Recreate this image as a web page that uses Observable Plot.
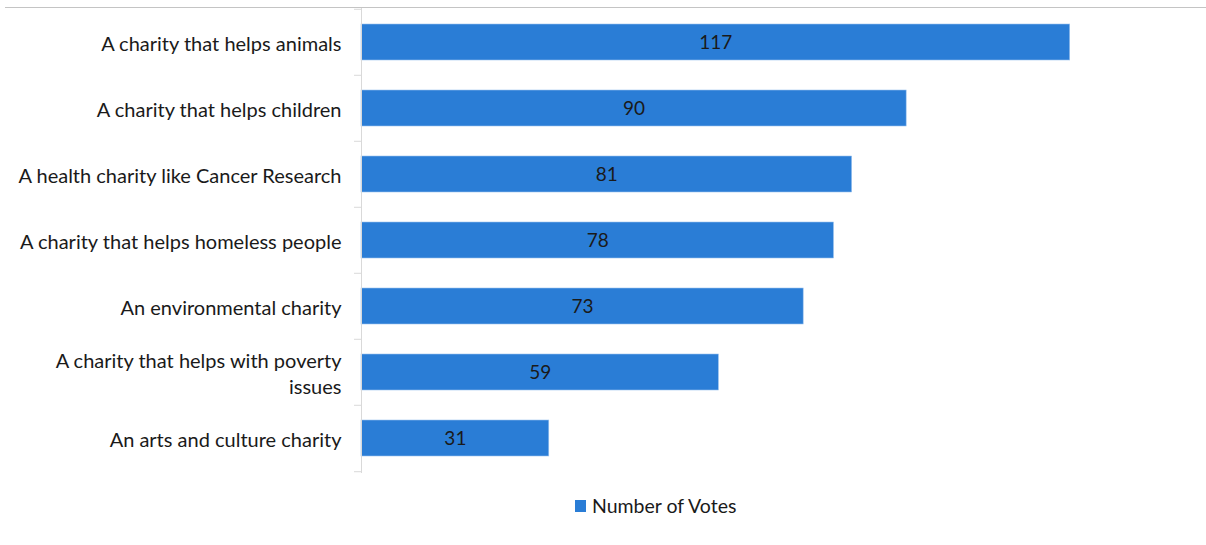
<!DOCTYPE html>
<html>
<head>
<meta charset="utf-8">
<script src="https://cdn.jsdelivr.net/npm/d3@7"></script>
<script src="https://cdn.jsdelivr.net/npm/@observablehq/plot@0.6"></script>
<style>
  html, body { margin: 0; padding: 0; background: #fff; }
  #wrap { position: relative; width: 1206px; height: 545px; font-family: Lato, "Open Sans", sans-serif; }
  #topline { position: absolute; top: 7px; left: 5px; right: 0; height: 1px; background: #c4c4c4; }
  #chart { position: absolute; top: 0; left: 0; }
  #legend { position: absolute; top: 494px; left: 575px; display: flex; align-items: center; font-size: 19.5px; color: #1a1a1a; }
  #legend .sw { width: 11px; height: 12px; background: #2a7dd6; margin-right: 6px; }
</style>
</head>
<body>
<div id="wrap">
  <div id="chart"></div>
  <div id="topline"></div>
  <div id="legend"><span class="sw"></span><span id="legend-label"></span></div>
</div>
<script>
const categories = [
  "A charity that helps animals",
  "A charity that helps children",
  "A health charity like Cancer Research",
  "A charity that helps homeless people",
  "An environmental charity",
  "A charity that helps with poverty\nissues",
  "An arts and culture charity"
];
const votes = [117, 90, 81, 78, 73, 59, 31];
const seriesName = "Number of Votes";

const data = categories.map((c, i) => ({category: c, votes: votes[i]}));
const barColor = "#2a7dd6";
const step = (473 - 8) / categories.length;

document.getElementById("legend-label").textContent = seriesName;

const chart = Plot.plot({
  width: 1206,
  height: 490,
  marginLeft: 361,
  marginRight: 0,
  marginTop: 8,
  marginBottom: 17,
  style: {fontFamily: "Lato, 'Open Sans', sans-serif", background: "transparent"},
  x: {domain: [0, 139.5], axis: null},
  y: {domain: categories, paddingInner: 0.45, paddingOuter: 0.225, axis: null},
  marks: [
    Plot.barX(data, {x: "votes", y: "category", fill: barColor, stroke: "#9cc3ee", strokeWidth: 0.6}),
    Plot.ruleX([0], {stroke: "#d9d9d9", strokeWidth: 1}),
    Plot.ruleY(categories, {y: d => d, x1: 0, x2: 0, insetLeft: -7, dy: -step / 2, stroke: "#d9d9d9"}),
    Plot.ruleY(categories.slice(-1), {y: d => d, x1: 0, x2: 0, insetLeft: -7, dy: step / 2, stroke: "#d9d9d9"}),
    Plot.axisY({label: null, tickSize: 0, tickPadding: 20, fontSize: 20, fill: "#1a1a1a", lineHeight: 1.3, textAnchor: "end"}),
    Plot.text(data, {x: d => d.votes / 2, y: "category", text: d => String(d.votes), fontSize: 19, fill: "#1a1a1a"})
  ]
});
document.getElementById("chart").appendChild(chart);
</script>
</body>
</html>
